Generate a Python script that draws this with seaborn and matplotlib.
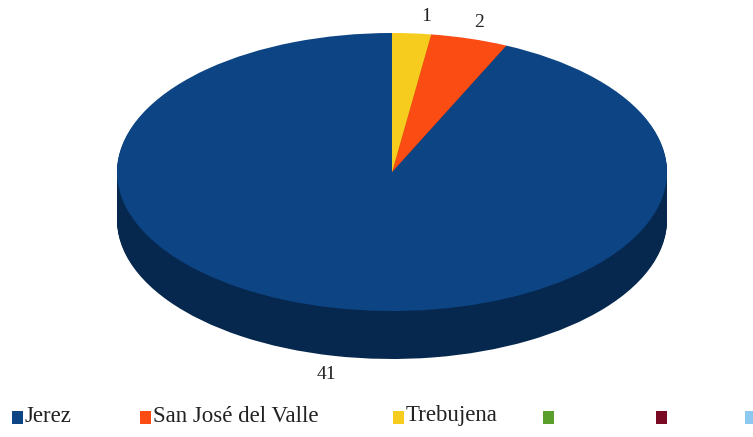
import numpy as np
import seaborn as sns
import matplotlib.pyplot as plt
from matplotlib.patches import Rectangle

towns = ["Jerez", "San José del Valle", "Trebujena", "", "", ""]
counts = [41, 2, 1]
top_colors = ["#0d4484", "#fb4c14", "#f6cc1f", "#5a9e2b", "#7a0a24", "#8cc8f0"]
side_colors = ["#06284f", "#a8300a", "#b08f10"]

sns.set_theme(style="white")
plt.rcParams['font.family'] = ['Liberation Serif', 'DejaVu Serif']

W, H = 753, 437
cx, cy = 392, 172       # pixel centre of top face
rx, ry = 275, 139       # ellipse radii in pixels
depth = 48              # thickness of the cylinder in pixels
k = rx / ry             # vertical squeeze

fig = plt.figure(figsize=(W / 100, H / 100), dpi=100)
ax = fig.add_axes([0, 0, 1, 1])

def py(y):
    return (H - y) * k

# side of the disc: stacked copies of the pie, shifted down
for d in range(depth, 0, -1):
    ax.pie(counts, colors=side_colors[:len(counts)], startangle=90, counterclock=True,
           radius=rx, center=(cx, py(cy + d)), frame=True,
           wedgeprops=dict(linewidth=0))
# top face
wedges, _ = ax.pie(counts, colors=top_colors[:len(counts)], startangle=90, counterclock=True,
                   radius=rx, center=(cx, py(cy)), frame=True,
                   wedgeprops=dict(linewidth=0))

ax.set_aspect('auto')
ax.set_xlim(0, W)
ax.set_ylim(0, H * k)
ax.axis('off')

# value labels outside each slice
for w, v in zip(wedges, counts):
    mid = np.deg2rad((w.theta1 + w.theta2) / 2)
    lx = cx + np.cos(mid) * rx * 1.12
    ly = cy - np.sin(mid) * ry * 1.12
    if np.sin(mid) < 0:
        ly += depth + 2
    if v == min(counts):
        lx += 12
    ax.text(lx, py(ly), str(v), ha='center', va='center', fontsize=14, color='#222222')

# legend row along the bottom
leg_x = [12, 140, 393, 543, 656, 745]
for x, lab, c in zip(leg_x, towns, top_colors):
    ax.add_patch(Rectangle((x, py(424)), 11, 13 * k, color=c, lw=0))
    if lab:
        ax.text(x + 13, py(416), lab, ha='left', va='center', fontsize=16.5, color='#222222')

fig.savefig("out.png", dpi=100)
